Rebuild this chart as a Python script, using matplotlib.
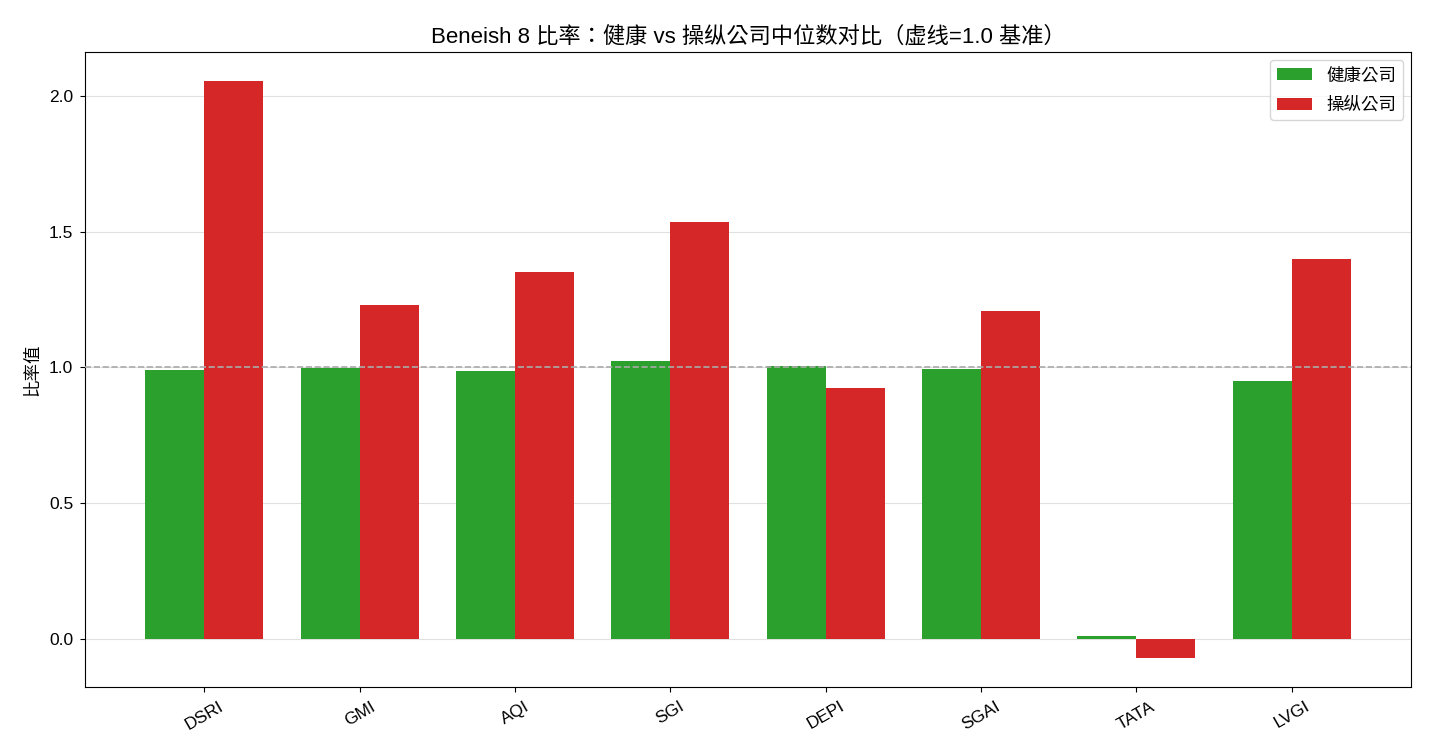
import matplotlib
matplotlib.use("Agg")
import matplotlib.pyplot as plt
import numpy as np

plt.rcParams['font.family'] = ['Liberation Sans', 'Noto Sans CJK TC', 'DejaVu Sans']
plt.rcParams['axes.unicode_minus'] = False
plt.rcParams['font.size'] = 12

categories = ["DSRI", "GMI", "AQI", "SGI", "DEPI", "SGAI", "TATA", "LVGI"]
healthy = [0.991, 0.997, 0.988, 1.025, 1.005, 0.996, 0.010, 0.951]
manipulated = [2.056, 1.229, 1.353, 1.537, 0.925, 1.209, -0.071, 1.401]

fig = plt.figure(figsize=(14.3, 7.54), dpi=100)
ax = fig.add_axes([0.0594, 0.0889, 0.9273, 0.8421])

x = np.arange(len(categories))
w = 0.38
ax.bar(x - w/2, healthy, w, color='#2ca02c', label='健康公司', zorder=2)
ax.bar(x + w/2, manipulated, w, color='#d62728', label='操纵公司', zorder=2)
ax.axhline(1.0, color='#aaaaaa', linestyle='--', linewidth=1.2, zorder=3)

ax.set_xticks(x)
ax.set_xticklabels(categories, rotation=30, fontsize=12.5)
ax.tick_params(axis='y', labelsize=12.5, pad=5)
ax.tick_params(axis='x', pad=5)
ax.set_ylabel('比率值', fontsize=12.6, labelpad=6)
ax.set_title('Beneish 8 比率：健康 vs 操纵公司中位数对比（虚线=1.0 基准）', fontsize=16, pad=7)
ax.yaxis.grid(True, color='#e0e0e0', linewidth=0.8, zorder=0)
ax.set_axisbelow(True)
ax.legend(loc='upper right', fontsize=12.6, labelspacing=0.75, borderaxespad=0.45)

fig.savefig('out.png', dpi=100)
